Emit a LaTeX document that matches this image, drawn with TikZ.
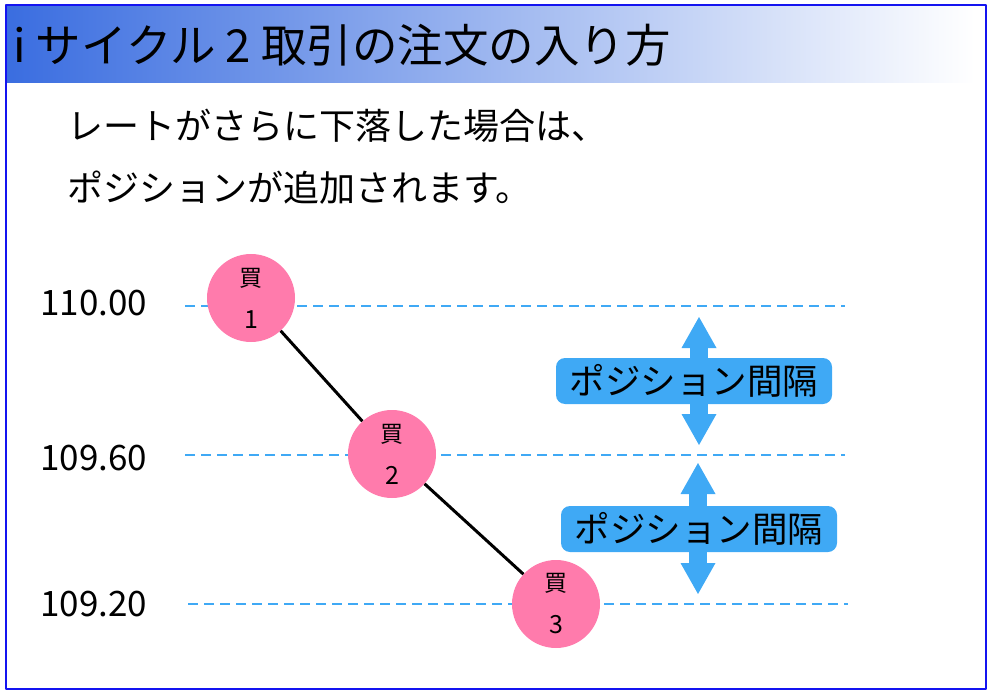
\documentclass[tikz,border=0pt]{standalone}
\usepackage{fontspec}
\setmainfont{Noto Sans CJK JP}
\usetikzlibrary{arrows.meta,positioning}
\definecolor{rateblue}{HTML}{3FA9F5}
\definecolor{buypink}{HTML}{FF7BAC}
\definecolor{bandblue}{HTML}{3A6DE0}
\definecolor{frameblue}{HTML}{1414F0}

\begin{document}
\begin{tikzpicture}[line join=round, x=1pt, y=-1pt,
    level/.style={rateblue, line width=2.2pt, dash pattern=on 10pt off 6pt},
    buy/.style={circle, fill=buypink, minimum size=88pt, inner sep=0pt, align=center, font=\fontsize{23}{42}\selectfont},
    gaparrow/.style={rateblue, line width=18pt, {Triangle[width=35pt,length=31pt,line width=0pt]}-{Triangle[width=35pt,length=31pt,line width=0pt]}},
    gaplabel/.style={fill=rateblue, rounded corners=9pt, minimum width=276pt, minimum height=46pt, inner sep=0pt, font=\fontsize{35.5}{40}\selectfont},
    price/.style={anchor=west, inner sep=0pt, font=\fontsize{35}{40}\selectfont},
    body/.style={anchor=west, inner sep=0pt, font=\fontsize{36}{40}\selectfont}]
    \useasboundingbox (0,0) rectangle (1000,700);

    % title band and frame
    \shade[left color=bandblue, right color=white] (6,5) rectangle (975,83);
    \draw[frameblue, line width=1.3pt] (6,5) rectangle (986,689);
    \node[anchor=west, inner sep=0pt, font=\fontsize{45.5}{50}\selectfont] (title) at (13,45) {i サイクル 2 取引の注文の入り方};

    \node[body] (line1) at (67,126) {レートがさらに下落した場合は、};
    \node[body] (line2) at (67,188) {ポジションが追加されます。};

    % rate levels
    \node[price] (p1) at (40,303) {110.00};
    \node[price] (p2) at (40,458) {109.60};
    \node[price] (p3) at (40,604) {109.20};

    \coordinate (l1a) at (185,306);
    \coordinate (l1b) at (845,306);
    \coordinate (l2a) at (185,455);
    \coordinate (l2b) at (845,455);
    \coordinate (l3a) at (188,604);
    \coordinate (l3b) at (848,604);

    \draw[level] (l1a) -- (l1b);
    \draw[level] (l2a) -- (l2b);
    \draw[level] (l3a) -- (l3b);

    % positions
    \node[buy] (b1) at (251,298) {買\\\fontsize{25}{30}\selectfont 1};
    \node[buy] (b2) at (392,454) {買\\\fontsize{25}{30}\selectfont 2};
    \node[buy] (b3) at (556,604) {買\\\fontsize{25}{30}\selectfont 3};

    \draw[line width=3pt] (b1) -- (b2);
    \draw[line width=3pt] (b2) -- (b3);

    % position spacing
    \coordinate (g1top) at (699,317);
    \coordinate (g1bot) at (699,445);
    \coordinate (g2top) at (698,463);
    \coordinate (g2bot) at (698,594);

    \draw[gaparrow] (g1top) -- (g1bot);
    \draw[gaparrow] (g2top) -- (g2bot);

    \node[gaplabel] (gap1) at (694,381) {ポジション間隔};
    \node[gaplabel] (gap2) at (699,529) {ポジション間隔};
\end{tikzpicture}
\end{document}
